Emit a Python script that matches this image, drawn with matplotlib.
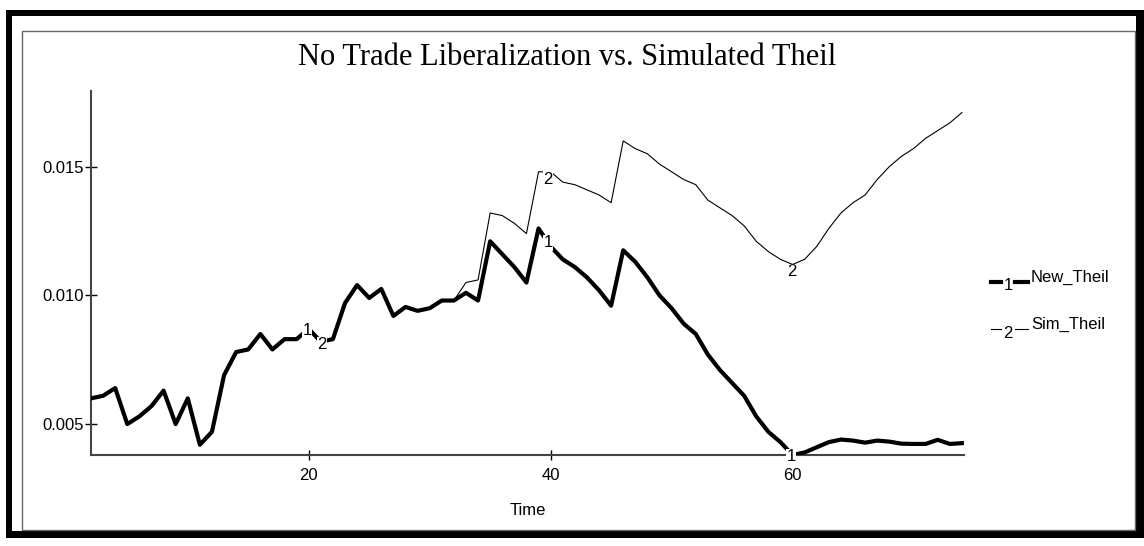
import matplotlib
matplotlib.use("Agg")
import matplotlib.pyplot as plt
from matplotlib.patches import Rectangle
from matplotlib.lines import Line2D

# data
time = list(range(2, 75))
new_theil = [0.0060, 0.0061, 0.0064, 0.0050, 0.0053, 0.0057, 0.0063, 0.0050, 0.0060, 0.0042,
             0.0047, 0.0069, 0.0078, 0.0079, 0.0085, 0.0079, 0.0083, 0.0083, 0.0087, 0.0082,
             0.0083, 0.0097, 0.0104, 0.0099, 0.01025, 0.0092, 0.00955, 0.0094, 0.0095, 0.0098,
             0.0098, 0.0101, 0.0098, 0.0121, 0.0116, 0.0111, 0.0105, 0.0126, 0.0119, 0.0114,
             0.0111, 0.0107, 0.0102, 0.0096, 0.01175, 0.0113, 0.0107, 0.0100, 0.0095, 0.0089,
             0.0085, 0.0077, 0.0071, 0.0066, 0.0061, 0.0053, 0.0047, 0.0043, 0.0038, 0.0039,
             0.0041, 0.0043, 0.0044, 0.00436, 0.00428, 0.00436, 0.00432, 0.00424, 0.00423, 0.00423,
             0.00439, 0.00423, 0.00426]
sim_theil = [0.0060, 0.0061, 0.0064, 0.0050, 0.0053, 0.0057, 0.0063, 0.0050, 0.0060, 0.0042,
             0.0047, 0.0069, 0.0078, 0.0079, 0.0085, 0.0079, 0.0083, 0.0083, 0.0087, 0.0082,
             0.0083, 0.0097, 0.0104, 0.0099, 0.01025, 0.0092, 0.00955, 0.0094, 0.0095, 0.0098,
             0.0098, 0.0105, 0.0106, 0.0132, 0.0131, 0.0128, 0.0124, 0.0148, 0.0148, 0.0144,
             0.0143, 0.0141, 0.0139, 0.0136, 0.0160, 0.0157, 0.0155, 0.0151, 0.0148, 0.0145,
             0.0143, 0.0137, 0.0134, 0.0131, 0.0127, 0.0121, 0.0117, 0.0114, 0.0112, 0.0114,
             0.0119, 0.0126, 0.0132, 0.0136, 0.0139, 0.0145, 0.0150, 0.0154, 0.0157, 0.0161,
             0.0164, 0.0167, 0.0171]

# where the "1" / "2" markers sit along the curves
label1_pts = [(19.85, 0.00862), (39.8, 0.01204), (59.9, 0.00374)]
label2_pts = [(21.1, 0.00808), (39.8, 0.01451), (59.9, 0.01091)]

yticks = [0.005, 0.010, 0.015]
ytick_labels = ["0.005", "0.010", "0.015"]
xticks = [20, 40, 60]

W, H = 1144, 546
plt.rcParams['font.family'] = ['Liberation Sans', 'DejaVu Sans']

fig = plt.figure(figsize=(W / 100, H / 100), dpi=100)


def px(x, y):
    return x / W, 1 - y / H


def rect(x0, y0, x1, y1, **kw):
    fx, fy = px(x0, y1)
    fig.add_artist(Rectangle((fx, fy), (x1 - x0) / W, (y1 - y0) / H,
                             transform=fig.transFigure, zorder=-5, **kw))


# outer frame with shadow, and the thin inner border
rect(6, 10, 1144, 538, facecolor='black', edgecolor='none')
rect(12, 16, 1136, 531, facecolor='white', edgecolor='none')
rect(22, 31, 1135, 530, facecolor='none', edgecolor='#666666', linewidth=1.0)

ax = fig.add_axes([91 / W, 1 - 455 / H, (964.3 - 91) / W, (455 - 90.7) / H])
ax.set_facecolor('none')

ax.plot(time, sim_theil, color='black', linewidth=0.8, zorder=2)
ax.plot(time, new_theil, color='black', linewidth=3.0, zorder=3)

for x, y in label1_pts:
    ax.text(x, y, "1", fontsize=12, ha='center', va='center', zorder=5,
            bbox=dict(facecolor='white', edgecolor='none', pad=0.2))
for x, y in label2_pts:
    ax.text(x, y, "2", fontsize=12, ha='center', va='center', zorder=5,
            bbox=dict(facecolor='white', edgecolor='none', pad=0.2))

ax.set_xlim(2, 74.2)
ax.set_ylim(0.0038, 0.01795)
ax.set_xticks(xticks)
ax.set_yticks(yticks)
ax.set_yticklabels(ytick_labels)
for s in ['top', 'right']:
    ax.spines[s].set_visible(False)
for s in ['left', 'bottom']:
    ax.spines[s].set_color('#444444')
    ax.spines[s].set_linewidth(1.5)
ax.tick_params(axis='x', direction='inout', length=7, width=1, labelsize=12, pad=6)
ax.tick_params(axis='y', direction='inout', length=8, width=1, labelsize=12, pad=1)
ax.set_xlabel("Time", fontsize=12, labelpad=14)

fig.text(567 / W, 1 - 65 / H, "No Trade Liberalization vs. Simulated Theil",
         fontsize=22, family='Liberation Serif', ha='center', va='baseline')

# legend drawn by hand, Vensim style
for y, lw, num, name in [(282, 3.0, "1", "New_Theil"), (329, 0.8, "2", "Sim_Theil")]:
    for xa, xb in [(991, 1001), (1015, 1028)]:
        (x0, fy), (x1, _) = px(xa, y), px(xb, y)
        fig.add_artist(Line2D([x0, x1], [fy, fy], color='black', linewidth=lw,
                              transform=fig.transFigure))
    fig.text(*px(1008, y + 4), num, fontsize=12, ha='center', va='center')
    fig.text(*px(1031, y - 5), name, fontsize=12, ha='left', va='center')

fig.savefig("out.png", dpi=100)
